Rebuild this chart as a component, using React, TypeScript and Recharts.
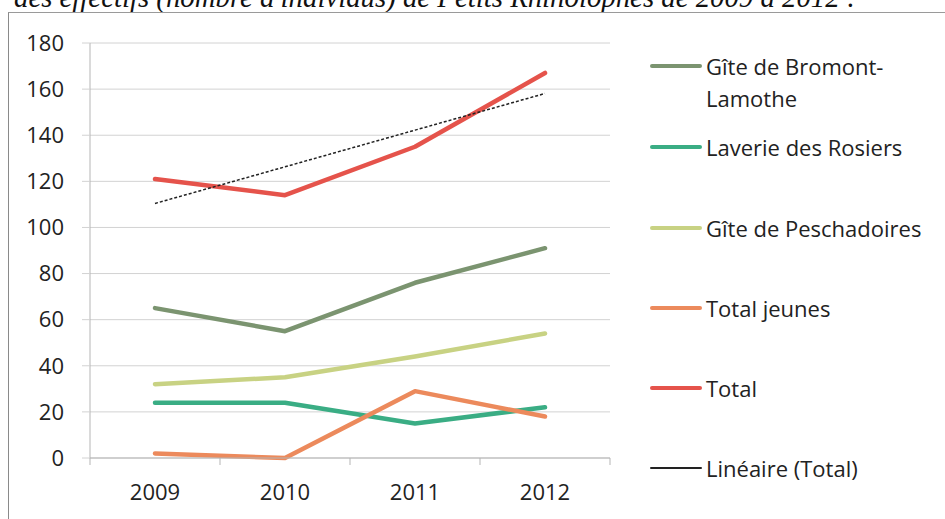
import React from 'react'
import { CartesianGrid, Line, LineChart, XAxis, YAxis } from 'recharts';

const years = ['2009', '2010', '2011', '2012'];
const bromont = [65, 55, 76, 91];
const laverie = [24, 24, 15, 22];
const peschadoires = [32, 35, 44, 54];
const totalJeunes = [2, 0, 29, 18];
const total = [121, 114, 135, 167];
const lineaireTotal = [110.4, 126.3, 142.2, 158.1];
const yTicks = [0, 20, 40, 60, 80, 100, 120, 140, 160, 180];

const series = [
    { key: 'bromont', name: 'Gîte de Bromont-Lamothe', values: bromont, color: '#7b9470' },
    { key: 'laverie', name: 'Laverie des Rosiers', values: laverie, color: '#3aad84' },
    { key: 'peschadoires', name: 'Gîte de Peschadoires', values: peschadoires, color: '#c8d283' },
    { key: 'jeunes', name: 'Total jeunes', values: totalJeunes, color: '#ec8a5c' },
    { key: 'total', name: 'Total', values: total, color: '#e5534b' },
];

const data = years.map((year, i) => {
    const row: any = { year, lineaire: lineaireTotal[i] };
    series.forEach(s => { row[s.key] = s.values[i]; });
    return row;
});

const FONT = '"Open Sans", sans-serif';

const XTick = ({ x, y, payload, index }: any) => {
    const axisY = y - 8;
    return (
        <g>
            {index === 0 && <line x1={x - 65} x2={x - 65} y1={axisY} y2={axisY + 7} stroke='#b5b5b5' />}
            <line x1={x + 65} x2={x + 65} y1={axisY} y2={axisY + 7} stroke='#b5b5b5' />
            <text x={x} y={y + 34} textAnchor='middle' fontSize={22} fontFamily={FONT} fill='#222'>
                {payload.value}
            </text>
        </g>
    )
}

const legendItems = [
    ...series.map(s => ({ name: s.name, color: s.color, thin: false })),
    { name: 'Linéaire (Total)', color: '#222', thin: true },
];
const legendCenters = [66, 147, 228, 308, 388, 468];

const App = () => {
    return (
        <div style={{ position: 'absolute', left: 0, top: 0, width: 945, height: 519, overflow: 'hidden', background: '#fff' }}>
            {/* caption of the page above, cut off by the scan */}
            <div style={{ position: 'absolute', left: 14, top: -17, fontFamily: '"Liberation Serif", serif', fontStyle: 'italic', fontSize: 28.8, lineHeight: 1, whiteSpace: 'nowrap', color: '#111' }}>
                des effectifs (nombre d'individus) de Petits Rhinolophes de 2009 à 2012 :
            </div>
            <div style={{ position: 'absolute', left: 8, top: 12, width: 945, height: 520, borderLeft: '1.5px solid #8a8a8a', borderTop: '1.5px solid #9a9a9a' }} />
            <div style={{ position: 'absolute', left: 0, top: 0 }}>
                <LineChart width={945} height={519} data={data} margin={{ top: 43, right: 335, bottom: 0, left: 0 }}>
                    <CartesianGrid vertical={false} stroke='#d2d2d2' />
                    <XAxis
                        dataKey='year'
                        height={61}
                        padding={{ left: 65, right: 65 }}
                        stroke='#b5b5b5'
                        tickLine={false}
                        tickSize={6}
                        tickMargin={2}
                        tick={<XTick />}
                        interval={0}
                    />
                    <YAxis
                        width={90}
                        domain={[0, 180]}
                        ticks={yTicks}
                        stroke='#b5b5b5'
                        tickSize={8}
                        tickMargin={18}
                        tickLine={{ stroke: '#d2d2d2' }}
                        tick={{ fontSize: 22, fontFamily: FONT, fill: '#222' }}
                    />
                    {series.map(s => (
                        <Line
                            key={s.key}
                            dataKey={s.key}
                            name={s.name}
                            stroke={s.color}
                            strokeWidth={4.5}
                            strokeLinecap='round'
                            strokeLinejoin='round'
                            dot={false}
                            isAnimationActive={false}
                        />
                    ))}
                    <Line
                        dataKey='lineaire'
                        name='Linéaire (Total)'
                        stroke='#222'
                        strokeWidth={1.5}
                        strokeDasharray='3 2'
                        dot={false}
                        isAnimationActive={false}
                    />
                </LineChart>
            </div>
            {legendItems.map((item, i) => (
                <div key={item.name} style={{ position: 'absolute', left: 650, top: legendCenters[i] - 16, display: 'flex', alignItems: 'flex-start' }}>
                    <div style={{ width: 52, height: 32, display: 'flex', alignItems: 'center' }}>
                        <div style={{ width: 52, height: item.thin ? 1.5 : 4.5, borderRadius: 2, background: item.color }} />
                    </div>
                    <div style={{ marginLeft: 4, width: 225, fontFamily: FONT, fontSize: 22, lineHeight: '32px', color: '#222' }}>
                        {item.name}
                    </div>
                </div>
            ))}
        </div>
    )
}

export default App;
